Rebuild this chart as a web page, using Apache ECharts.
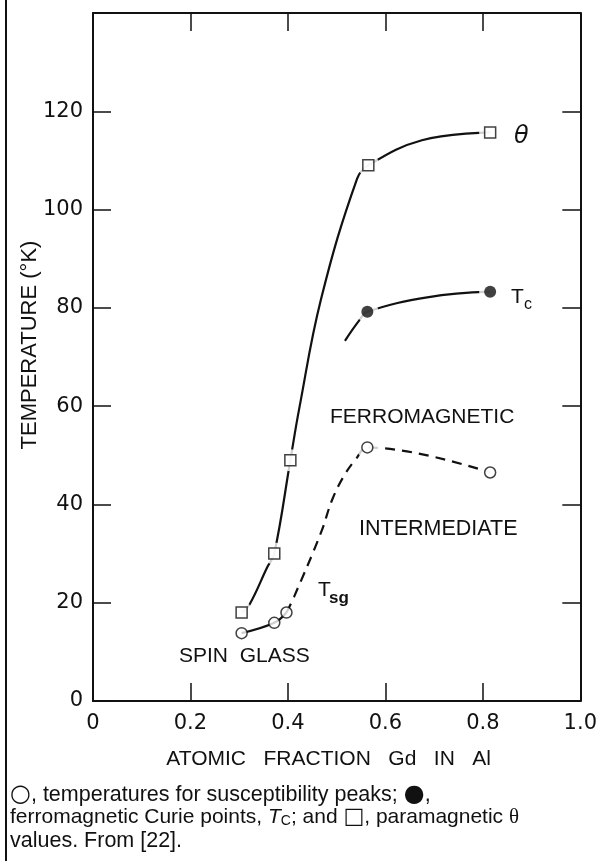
<!DOCTYPE html>
<html>
<head>
<meta charset="utf-8">
<script src="https://cdn.jsdelivr.net/npm/echarts@6/dist/echarts.min.js"></script>
<style>
  html, body { margin: 0; padding: 0; background: #fff; }
  #chart { width: 600px; height: 861px; }
</style>
</head>
<body>
<div id="chart"></div>
<script>
// axis ticks
var xTicks = [0, 0.2, 0.4, 0.6, 0.8, 1.0];
var yTicks = [0, 20, 40, 60, 80, 100, 120];

// measured points (x = atomic fraction Gd, y = temperature K)
var thetaPts = [[0.305, 18.0], [0.372, 30.0], [0.405, 49.0], [0.565, 109.0], [0.815, 115.7]];
var curiePts = [[0.563, 79.2], [0.815, 83.3]];
var peakPts = [[0.305, 13.8], [0.372, 15.9], [0.397, 18.0], [0.563, 51.6], [0.815, 46.5]];

// hand-drawn guide curves
var thetaCurve = [[0.305, 18.0], [0.321, 19.6], [0.358, 27.3], [0.372, 30.0], [0.405, 49.0], [0.423, 59.4], [0.468, 81.8], [0.542, 106.3], [0.565, 109.0], [0.675, 114.1], [0.815, 115.7]];
var curieCurve = [[0.517, 73.3], [0.546, 77.4], [0.563, 79.2], [0.689, 82.2], [0.815, 83.3]];
var tsgSolid = [[0.305, 13.8], [0.372, 15.9], [0.397, 18.0]];
var tsgDashed = [[0.397, 18.0], [0.413, 21.3], [0.468, 34.3], [0.491, 41.0], [0.515, 45.8], [0.540, 49.3], [0.563, 51.6], [0.815, 46.5]];

(function() {
  var ink = '#111';
  var font = '"Liberation Sans", Arial, sans-serif';
  var numFont = '"DejaVu Sans", sans-serif';
  var chart = echarts.init(document.getElementById('chart'));

  var frameAxis = {
    axisLine: { show: true, onZero: false, lineStyle: { color: ink, width: 2 } },
    axisTick: { show: true, inside: true, length: 18, lineStyle: { color: ink, width: 1.5 } },
    splitLine: { show: false }
  };

  chart.setOption({
    animation: false,
    backgroundColor: '#fff',
    grid: { left: 93, right: 18, top: 13, bottom: 160 },
    xAxis: [
      Object.assign({
        type: 'value', position: 'bottom', min: 0, max: 1, interval: 0.2,
        name: 'ATOMIC   FRACTION   Gd   IN   Al',
        nameLocation: 'middle', nameGap: 48,
        nameTextStyle: { color: ink, fontFamily: font, fontSize: 21, padding: [0, 16, 0, 0] },
        axisLabel: {
          color: ink, fontFamily: numFont, fontSize: 21, margin: 12,
          formatter: function(v) { return v === 0 ? '0' : v.toFixed(1); }
        }
      }, frameAxis),
      Object.assign({
        type: 'value', position: 'top', min: 0, max: 1, interval: 0.2,
        axisLabel: { show: false }
      }, frameAxis)
    ],
    yAxis: [
      Object.assign({
        type: 'value', position: 'left', min: 0, max: 140, interval: 20,
        axisLabel: {
          color: ink, fontFamily: numFont, fontSize: 21, margin: 10,
          formatter: function(v) { return yTicks.indexOf(v) >= 0 ? String(v) : ''; }
        }
      }, frameAxis),
      Object.assign({
        type: 'value', position: 'right', min: 0, max: 140, interval: 20,
        axisLabel: { show: false }
      }, frameAxis)
    ],
    series: [
      // --- guide curves ---
      { type: 'line', data: thetaCurve, smooth: 0.4, showSymbol: false, z: 2,
        lineStyle: { color: ink, width: 2.2 } },
      { type: 'line', data: curieCurve, smooth: 0.4, showSymbol: false, z: 2,
        lineStyle: { color: ink, width: 2.2 } },
      { type: 'line', data: tsgSolid, smooth: 0.4, showSymbol: false, z: 2,
        lineStyle: { color: ink, width: 2.2 } },
      { type: 'line', data: tsgDashed, smooth: 0.4, showSymbol: false, z: 2,
        lineStyle: { color: ink, width: 2.2, type: [10, 7] } },
      // white halos so the curves stop short of the symbols
      { type: 'scatter', data: thetaPts.concat(curiePts, peakPts.slice(3)), symbol: 'circle',
        symbolSize: 22, z: 3, itemStyle: { color: '#fff' }, silent: true },
      // --- symbols ---
      { type: 'scatter', data: thetaPts, symbol: 'rect', symbolSize: 11, z: 4,
        itemStyle: { color: '#fff', borderColor: ink, borderWidth: 1.5 } },
      { type: 'scatter', data: curiePts, symbol: 'circle', symbolSize: 12, z: 4,
        itemStyle: { color: ink } },
      { type: 'scatter', data: peakPts, symbol: 'circle', symbolSize: 11, z: 4,
        itemStyle: { color: '#fff', borderColor: ink, borderWidth: 1.5 } }
    ],
    graphic: [
      // figure frame, left side
      { type: 'line', shape: { x1: 6, y1: 0, x2: 6, y2: 861 }, style: { stroke: ink, lineWidth: 2 } },
      // y axis title
      { type: 'text', x: 30, y: 345, rotation: Math.PI / 2,
        style: { text: 'TEMPERATURE (°K)', fill: ink, font: '22px ' + font, align: 'center', verticalAlign: 'middle' } },
      // curve labels
      { type: 'text', left: 514, top: 125, style: { text: 'θ', fill: ink, font: 'italic 24px "DejaVu Sans", sans-serif' } },
      { type: 'text', left: 511, top: 287, style: { text: 'T', fill: ink, font: '21px ' + font } },
      { type: 'text', left: 524, top: 297, style: { text: 'c', fill: ink, font: '16px ' + font } },
      { type: 'text', left: 318, top: 580, style: { text: 'T', fill: ink, font: '21px ' + font } },
      { type: 'text', left: 329, top: 590, style: { text: 'sg', fill: ink, font: 'bold 17px ' + font } },
      // region labels
      { type: 'text', left: 330, top: 407, style: { text: 'FERROMAGNETIC', fill: ink, font: '21px ' + font } },
      { type: 'text', left: 359, top: 518, style: { text: 'INTERMEDIATE', fill: ink, font: '21.5px ' + font } },
      { type: 'text', left: 179, top: 646, style: { text: 'SPIN  GLASS', fill: ink, font: '21px ' + font } },
      // caption
      { type: 'text', left: 10, top: 783, style: {
        text: '{g|○}, temperatures for susceptibility peaks; {g|●},', fill: ink, font: '21.5px ' + font,
        rich: { g: { fontSize: 24, fontFamily: '"DejaVu Sans", sans-serif' } } } },
      { type: 'text', left: 10, top: 806, style: {
        text: 'ferromagnetic Curie points, {it|T}{sub|C}; and {g|□}, paramagnetic {th|θ}',
        fill: ink, font: '21px ' + font,
        rich: {
          it: { fontStyle: 'italic', fontSize: 21, fontFamily: font },
          sub: { fontSize: 14, fontFamily: font, verticalAlign: 'bottom', padding: [7, 0, 0, 0] },
          g: { fontSize: 22, fontFamily: '"DejaVu Sans", sans-serif' },
          th: { fontSize: 21, fontFamily: '"Liberation Serif", serif' }
        } } },
      { type: 'text', left: 10, top: 830, style: {
        text: 'values. From [22].', fill: ink, font: '21.5px ' + font } }
    ]
  });

  window.addEventListener('resize', function() { chart.resize(); });
})();
</script>
</body>
</html>
